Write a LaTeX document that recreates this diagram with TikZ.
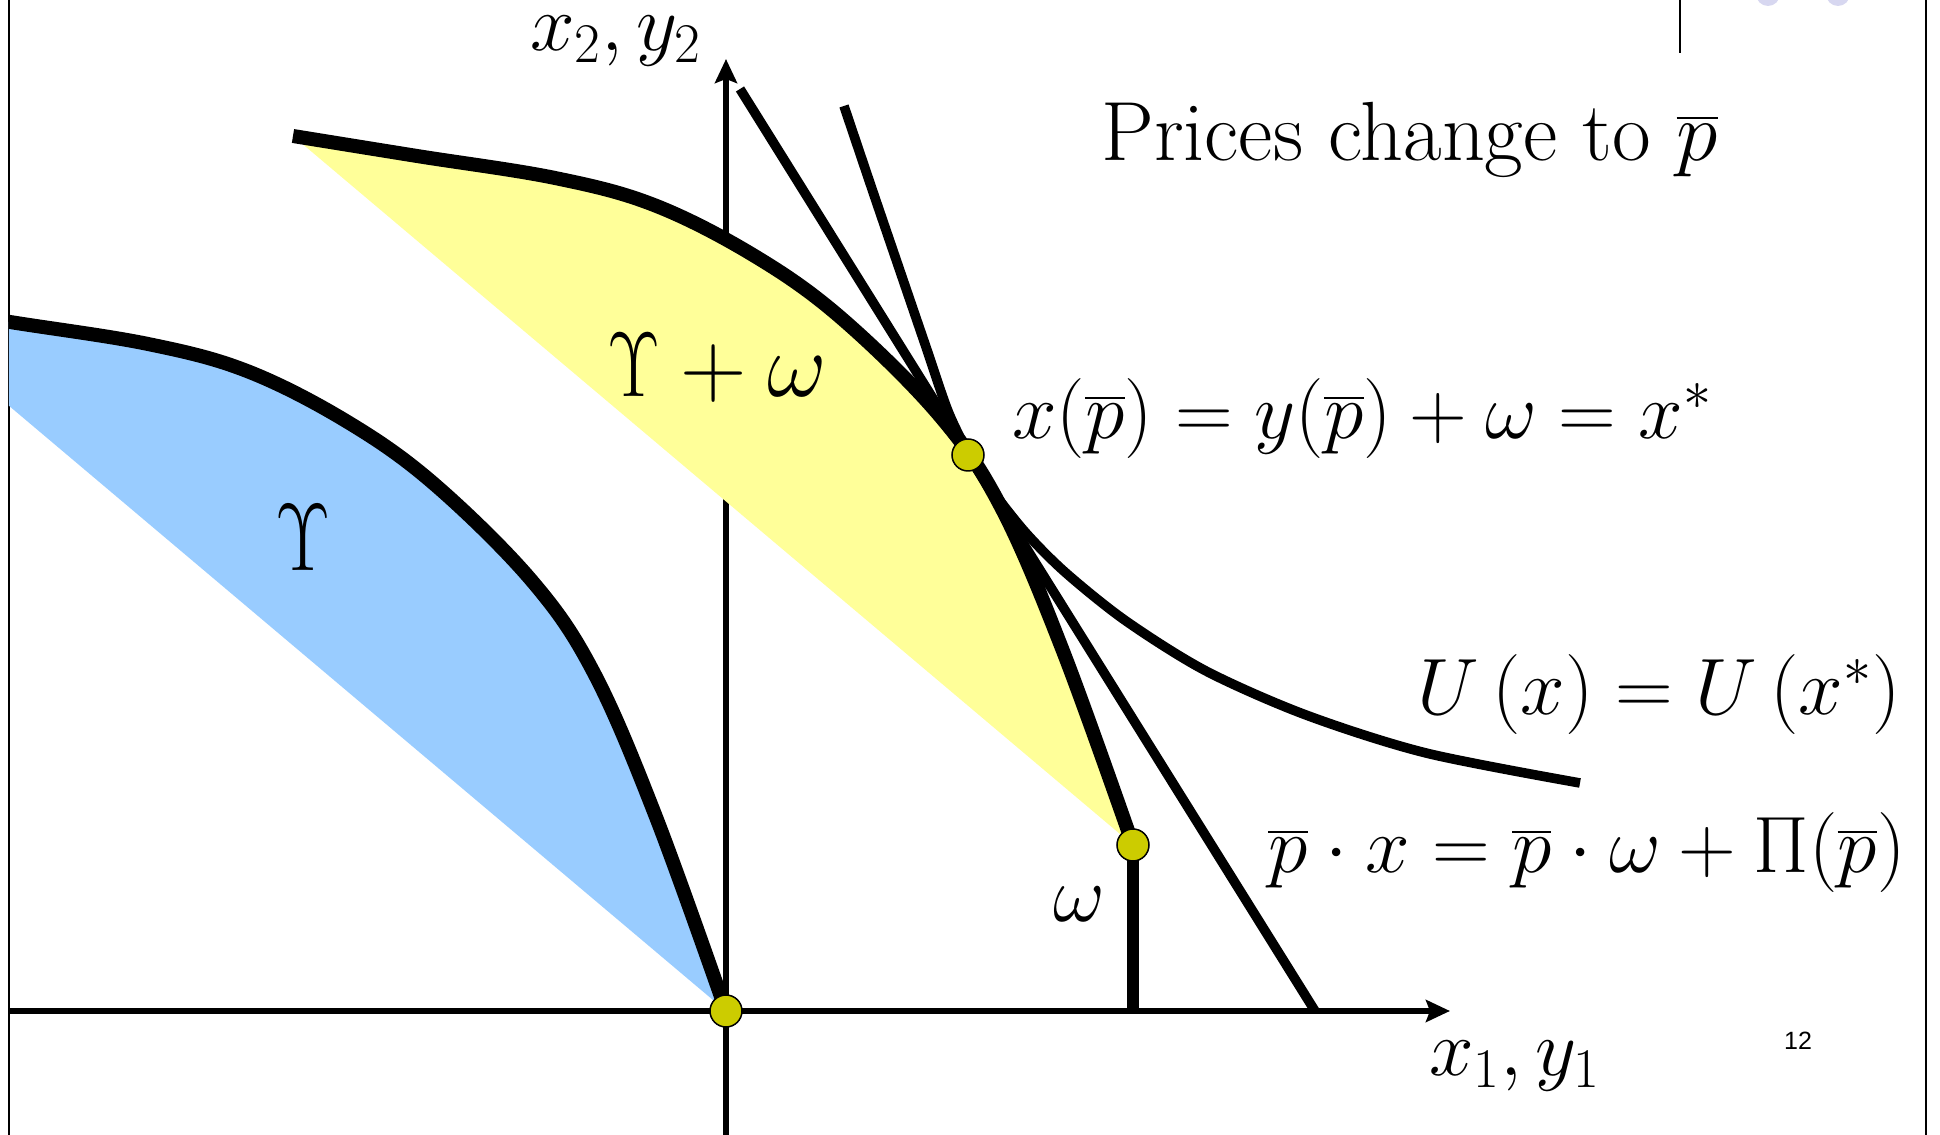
\RequirePackage{fix-cm}
\documentclass[tikz,border=0pt]{standalone}
\usepackage{fontspec}
\usepackage{amsmath}
\usepackage{graphicx}
\usetikzlibrary{arrows.meta}
\newfontfamily\arial{Liberation Sans}
\definecolor{upsblue}{RGB}{153,204,255}
\definecolor{upsyellow}{RGB}{255,255,153}
\definecolor{dotyellow}{RGB}{204,204,0}
\definecolor{slidelav}{RGB}{215,215,240}
% production frontier of Upsilon, ending at the origin
\newcommand{\frontier}{plot[smooth,tension=0.6] coordinates {(-840,709) (-716,689) (-578,667) (-479,640) (-380,590) (-293,528) (-194,430) (-132,338) (-70,194) (0,0)}}
\newcommand{\Ups}[1]{\scalebox{#1}[1]{$\Upsilon$}}
\begin{document}
\begin{tikzpicture}[x=0.5pt,y=0.5pt,
    axis/.style={line width=3.2pt,-{Stealth[length=12pt,width=11pt,inset=2pt]}},
    curve/.style={line width=7pt},
    budline/.style={line width=4.8pt},
    dot/.style={circle,draw=black,line width=0.75pt,fill=dotyellow,minimum size=16pt,inner sep=0pt},
    lab/.style={font=\fontsize{40}{48}\selectfont,inner sep=0pt}]
\useasboundingbox (-726,-124) rectangle (1214,1011);
% slide frame
\fill[slidelav] (1042,1017) circle (12) (1112,1017) circle (12);
\draw[line width=1.2pt] (-717,-124) -- (-717,1011) (1200,-124) -- (1200,1011);
\draw[line width=1pt] (954,1011) -- (954,958);
% axes
\coordinate (O) at (0,0);
\coordinate (W) at (407,166);
\coordinate (T) at (242,556);
\draw[axis] (-717,0) -- (724,0);
\draw[axis] (0,-124) -- (0,952);
% Upsilon and Upsilon + omega
\begin{scope}
  \clip (-717,-124) rectangle (1214,1011);
  \fill[upsblue] \frontier -- cycle;
  \draw[curve] \frontier;
\end{scope}
\begin{scope}[shift={(W)}]
  \fill[upsyellow] \frontier -- cycle;
  \draw[curve] \frontier;
\end{scope}
% budget line, indifference curve, endowment
\draw[budline] (14,922) -- (589,0);
\draw[budline] plot[smooth] coordinates {(118,905) (146,822) (174,740) (200,664) (222,600) (242,559) (266,521) (300,478) (340,438) (400,390) (480,340) (580,296) (700,258) (854,228)};
\draw[curve,line width=6pt] (W) -- (W |- O);
\node[dot] (dO) at (O) {};
\node[dot] (dT) at (T) {};
\node[dot] (dW) at (W) {};
% labels
\node[font=\fontsize{48}{56}\selectfont,inner sep=0pt] (ups) at (-423,473) {\Ups{0.8}};
\node[font=\fontsize{46}{54}\selectfont,inner sep=0pt] (upsw) at (-9,643) {$\text{\Ups{0.8}}+\omega$};
\node[lab,font=\fontsize{42}{50}\selectfont,anchor=base west] (title) at (375,850) {Prices change to $\overline{p}$};
\node[lab,anchor=base west] (xstar) at (286,572) {$x(\overline{p}) = y(\overline{p}) + \omega = x^*$};
\node[lab,anchor=base west] (ulab) at (691,296) {$U\,(x) = U\,(x^*)$};
\node[lab,anchor=base west] (blab) at (542,138) {$\overline{p}\cdot x = \overline{p}\cdot\omega + \Pi(\overline{p})$};
\node[lab,anchor=base] (wlab) at (353,89) {$\omega$};
\node[lab,anchor=base west] (x1lab) at (703,-65) {$x_1, y_1$};
\node[lab,anchor=base west] (x2lab) at (-196,960) {$x_2, y_2$};
\node[font=\arial\fontsize{12.5}{14}\selectfont,inner sep=0pt] (pg) at (1072,-30) {12};
\end{tikzpicture}
\end{document}
